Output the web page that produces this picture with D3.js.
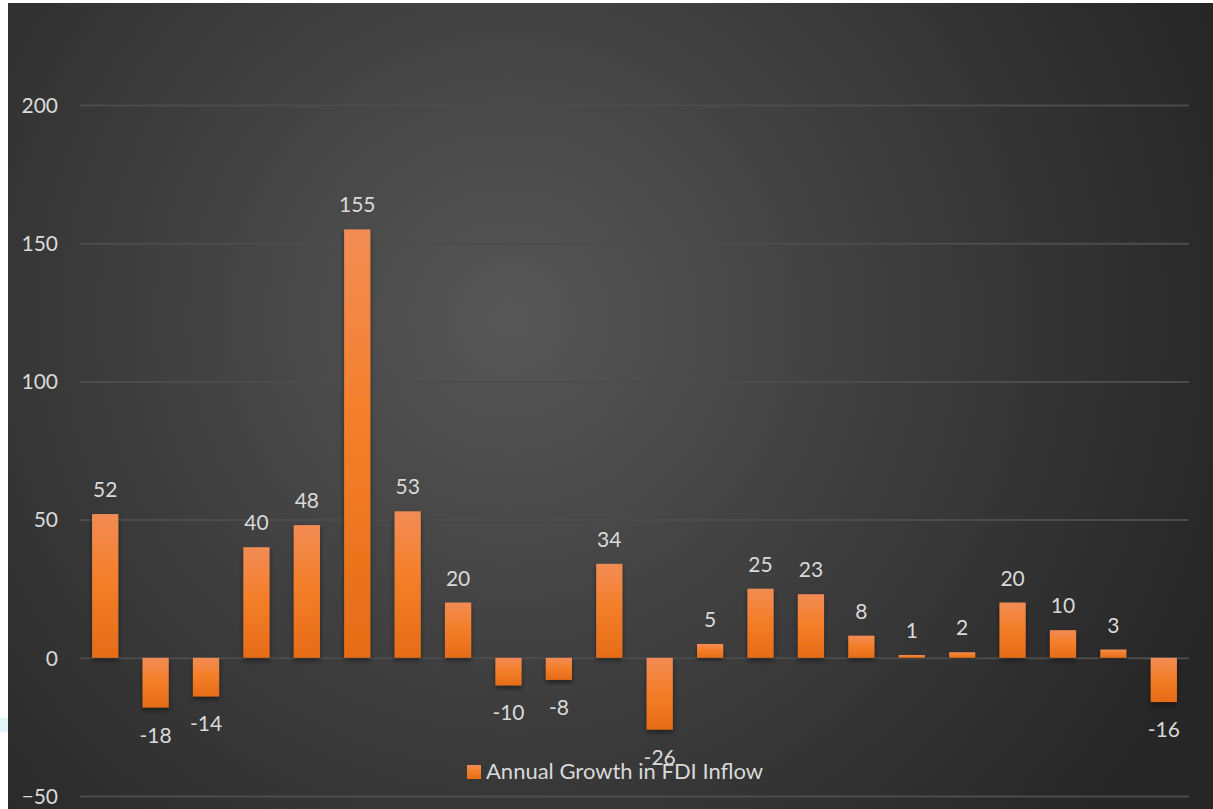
<!DOCTYPE html>
<html>
<head>
<meta charset="utf-8">
<script src="https://cdn.jsdelivr.net/npm/d3@7"></script>
<style>
  html, body { margin: 0; padding: 0; background: #ffffff; }
  svg { display: block; }
</style>
</head>
<body>
<svg id="chart" width="1213" height="809"></svg>
<script>
// categories have no visible labels in the picture, so they are just positions
var categories = ["c1","c2","c3","c4","c5","c6","c7","c8","c9","c10","c11",
                  "c12","c13","c14","c15","c16","c17","c18","c19","c20","c21","c22"];
var growth = [52,-18,-14,40,48,155,53,20,-10,-8,34,-26,5,25,23,8,1,2,20,10,3,-16];
var yTicks = [-50,0,50,100,150,200];
var seriesName = "Annual Growth in FDI Inflow";

var svg = d3.select("#chart");
var defs = svg.append("defs");

//Dark radial background like the Office style
var bg = defs.append("radialGradient")
             .attr("id","bgGrad")
             .attr("gradientUnits","userSpaceOnUse")
             .attr("cx",510).attr("cy",320).attr("r",760);
bg.append("stop").attr("offset","0%").attr("stop-color","#575757");
bg.append("stop").attr("offset","55%").attr("stop-color","#3b3b3b");
bg.append("stop").attr("offset","100%").attr("stop-color","#262626");

//Bar fill: lighter at the top, deeper orange at the bottom
var barGrad = defs.append("linearGradient")
                  .attr("id","barGrad")
                  .attr("x1",0).attr("y1",0).attr("x2",0).attr("y2",1);
barGrad.append("stop").attr("offset","0%").attr("stop-color","#f28c55");
barGrad.append("stop").attr("offset","45%").attr("stop-color","#f47f2a");
barGrad.append("stop").attr("offset","100%").attr("stop-color","#e66c17");

var shadow = defs.append("filter").attr("id","shadow")
                 .attr("x","-30%").attr("y","-10%").attr("width","160%").attr("height","130%");
shadow.append("feDropShadow")
      .attr("dx",0).attr("dy",3).attr("stdDeviation",2.5)
      .attr("flood-color","#000").attr("flood-opacity",0.45);

svg.append("rect")
   .attr("x",8).attr("y",3)
   .attr("width",1205).attr("height",806)
   .attr("fill","url(#bgGrad)");

//faint cyan smudge at the left edge
svg.append("rect")
   .attr("x",0).attr("y",718).attr("width",8).attr("height",14)
   .attr("fill","#d8f4f8").attr("opacity",0.8);

var plot = {left: 80, right: 1189, top: 105, bottom: 796};

var x = d3.scaleBand()
          .domain(categories)
          .range([plot.left, plot.right])
          .paddingInner(0.48)
          .paddingOuter(0.24);

var y = d3.scaleLinear()
          .domain([-50, 200])
          .range([plot.bottom, plot.top]);

//Gridlines + tick labels
var yAxis = d3.axisLeft(y)
              .tickValues(yTicks)
              .tickSize(-(plot.right - plot.left))
              .tickPadding(22);

var gAxis = svg.append("g")
               .attr("transform","translate(" + plot.left + ",0)")
               .call(yAxis);
gAxis.select(".domain").remove();
gAxis.selectAll(".tick line")
     .attr("stroke","#4c4c4c")
     .attr("stroke-width",2);
gAxis.selectAll(".tick text")
     .attr("fill","#d9d9d9")
     .attr("font-family","Lato, 'Open Sans', sans-serif")
     .attr("font-size",21)
     .attr("dy","0.35em");

//Bars
svg.append("g")
   .selectAll("rect")
   .data(growth)
   .join("rect")
   .attr("x", function(d,i) { return x(categories[i]); })
   .attr("width", x.bandwidth())
   .attr("y", function(d) { return y(Math.max(0,d)); })
   .attr("height", function(d) { return Math.abs(y(d) - y(0)); })
   .attr("fill","url(#barGrad)")
   .attr("filter","url(#shadow)");

//Value labels
svg.append("g")
   .selectAll("text")
   .data(growth)
   .join("text")
   .attr("x", function(d,i) { return x(categories[i]) + x.bandwidth()/2; })
   .attr("y", function(d) { return d >= 0 ? y(d) - 17 : y(d) + 35; })
   .attr("text-anchor","middle")
   .attr("fill","#d9d9d9")
   .attr("font-family","Lato, 'Open Sans', sans-serif")
   .attr("font-size",21)
   .text(function(d) { return d; });

//Legend (sits over the -26 label, as in the original)
var legend = svg.append("g").attr("transform","translate(467,765)");
legend.append("rect")
      .attr("width",14).attr("height",14)
      .attr("fill","url(#barGrad)");
legend.append("text")
      .attr("x",19).attr("y",14)
      .attr("fill","#d9d9d9")
      .attr("font-family","Lato, 'Open Sans', sans-serif")
      .attr("font-size",22)
      .text(seriesName);
</script>
</body>
</html>
